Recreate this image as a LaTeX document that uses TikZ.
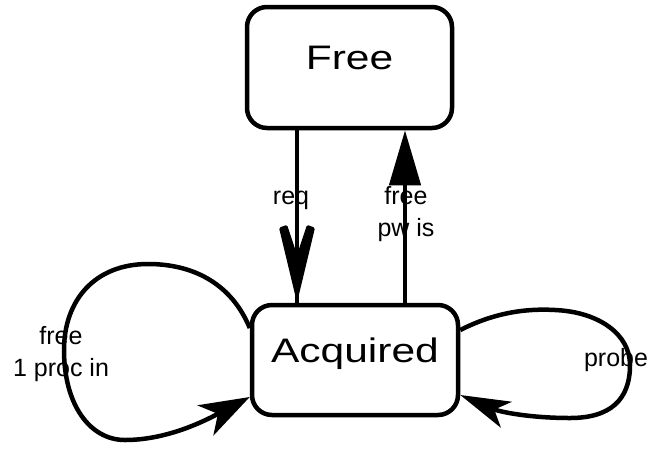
\documentclass[tikz,border=0pt]{standalone}
\usepackage{fontspec}
\setmainfont{Liberation Sans}
\newfontfamily\statefont[FakeStretch=1.25]{Liberation Sans}
\usetikzlibrary{arrows.meta}

\tikzset{
  state/.style={draw,line width=4.5pt,rounded corners=20pt,
    font=\statefont\fontsize{34}{36}\selectfont,text height=20pt,text depth=16pt},
  lbl/.style={font=\fontsize{25}{32}\selectfont,align=center,inner sep=0pt},
  trans/.style={line width=4.5pt},
  solid head/.style={-{Triangle[length=55pt,width=31pt]}},
  left head/.style={-{Stealth[length=50pt,width=34pt,inset=14pt]}},
  right head/.style={-{Stealth[length=50pt,width=28pt,inset=13pt]}}
}

\begin{document}
\begin{tikzpicture}[x=1pt,y=-1pt]
    \useasboundingbox (0,0) rectangle (655,448);
    \node[state,minimum width=205pt,minimum height=121pt](free)at(349.5,67.5){Free};
    \node[state,minimum width=206pt,minimum height=110pt](acq)at(355,360){Acquired};
    \coordinate(reqx)at(297,0);
    \coordinate(relx)at(405,0);
    % free <-> acquired
    \draw[trans](free.south -| reqx)--(acq.north -| reqx);
    \fill[shift={(acq.north -| reqx)},line join=round,rounded corners=1.5pt]
        (0,0)--(-18,-75)--(-10,-78)--(0,-48)--(10,-78)--(18,-75)--cycle;
    \draw[trans,solid head](acq.north -| relx)--(free.south -| relx);
    \node[lbl](req)at(291,200){req};
    \node[lbl](rel)at(406,214){free\\pw is};
    % self loops on acquired
    \draw[trans,left head]([yshift=32]acq.west)
        .. controls (232,285) and (195,264) .. (148,264)
        .. controls (95,264) and (64,300) .. (64,350)
        .. controls (64,405) and (90,440) .. (125,440)
        .. controls (170,440) and (210,418) .. ([yshift=-37]acq.west);
    \draw[trans,right head]([yshift=30]acq.east)
        .. controls (490,315) and (520,308) .. (555,310)
        .. controls (600,312) and (630,335) .. (630,365)
        .. controls (630,400) and (610,418) .. (570,418)
        .. controls (530,418) and (500,412) .. ([yshift=-35]acq.east);
    \node[lbl](lin)at(61,354){free\\1 proc in};
    \node[lbl](probe)at(616,360){probe};
\end{tikzpicture}
\end{document}
